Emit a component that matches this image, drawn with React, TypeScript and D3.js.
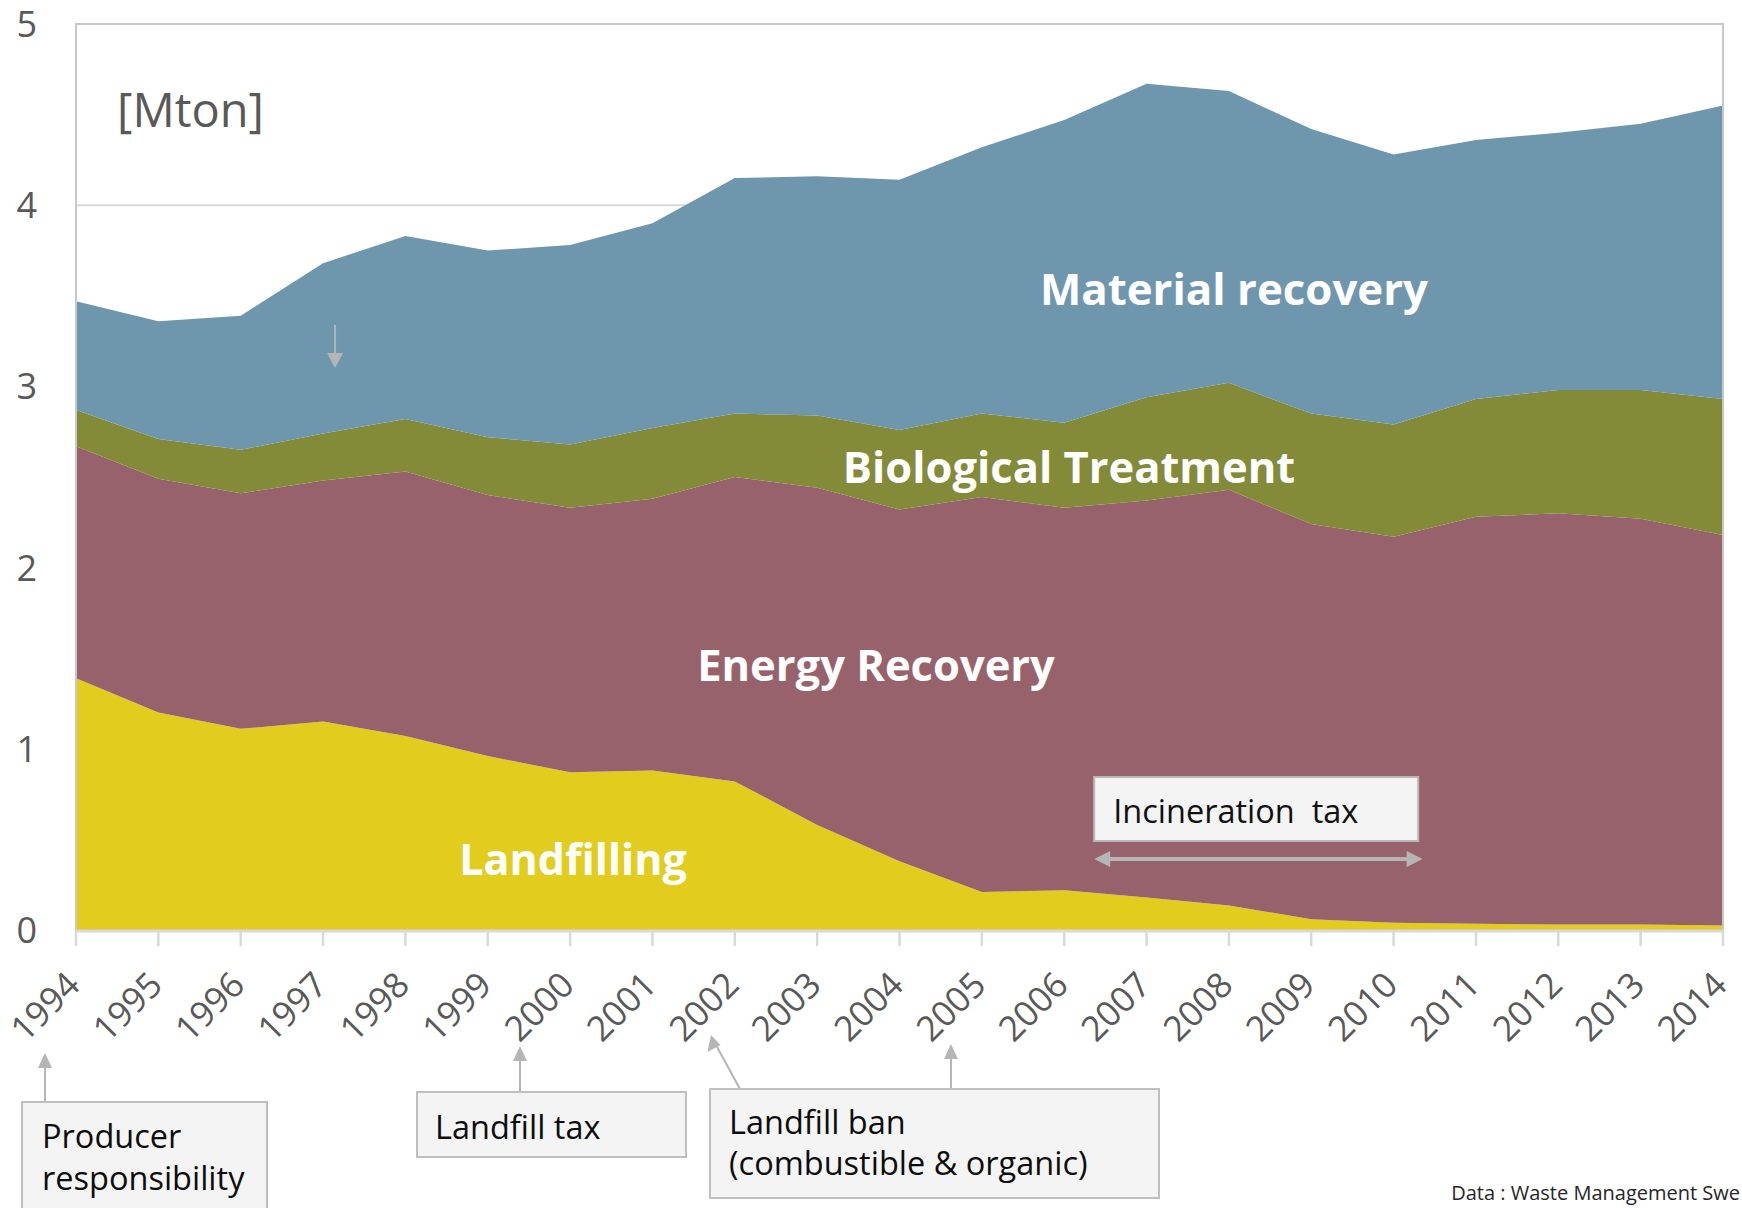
import React from 'react'
import * as d3 from 'd3'

// waste treatment in Sweden, Mton per year
const years = [1994, 1995, 1996, 1997, 1998, 1999, 2000, 2001, 2002, 2003, 2004, 2005, 2006, 2007, 2008, 2009, 2010, 2011, 2012, 2013, 2014]
const landfilling = [1.39, 1.2, 1.11, 1.15, 1.07, 0.96, 0.87, 0.88, 0.82, 0.58, 0.38, 0.21, 0.22, 0.18, 0.135, 0.06, 0.04, 0.035, 0.03, 0.03, 0.025]
const energyRecovery = [1.28, 1.29, 1.3, 1.33, 1.46, 1.44, 1.46, 1.5, 1.68, 1.86, 1.94, 2.18, 2.11, 2.19, 2.295, 2.18, 2.13, 2.245, 2.27, 2.24, 2.155]
const biologicalTreatment = [0.2, 0.22, 0.24, 0.26, 0.29, 0.32, 0.35, 0.39, 0.35, 0.4, 0.44, 0.46, 0.47, 0.57, 0.59, 0.61, 0.62, 0.65, 0.68, 0.71, 0.75]
const materialRecovery = [0.6, 0.65, 0.74, 0.94, 1.01, 1.03, 1.1, 1.13, 1.3, 1.32, 1.38, 1.47, 1.67, 1.73, 1.61, 1.57, 1.49, 1.43, 1.42, 1.47, 1.62]
const yTicks = [0, 1, 2, 3, 4, 5]

const seriesKeys = ['landfilling', 'energy', 'biological', 'material']
const seriesColors = ['#e2cd1e', '#97626b', '#838a38', '#6e97ae']

const W = 1742
const H = 1208
const m = { top: 24, right: 19, bottom: 278, left: 76 }
const FONT = "'Open Sans', 'Noto Sans', sans-serif"
const GREY = '#b5b5b5'
const NOTE = 32.5

function ArrowUp({ x, y1, y2 }: { x: number; y1: number; y2: number }) {
  return (
    <g>
      <line x1={x} x2={x} y1={y1} y2={y2 + 12} stroke={GREY} strokeWidth={2} />
      <path d={`M${x},${y2} L${x - 7},${y2 + 15} L${x + 7},${y2 + 15} Z`} fill={GREY} />
    </g>
  )
}

export default function App() {
  const iW = W - m.left - m.right
  const iH = H - m.top - m.bottom

  const x = d3.scaleLinear().domain([years[0], years[years.length - 1]]).range([m.left, m.left + iW])
  const y = d3.scaleLinear().domain([0, 5]).range([m.top + iH, m.top])

  const rows = years.map((yr, i) => ({
    year: yr,
    landfilling: landfilling[i],
    energy: energyRecovery[i],
    biological: biologicalTreatment[i],
    material: materialRecovery[i],
  }))
  const stacked = d3.stack<any>().keys(seriesKeys)(rows)
  const area = d3.area<any>()
    .x(d => x(d.data.year))
    .y0(d => y(d[0]))
    .y1(d => y(d[1]))

  const y0 = y(0)

  // annotation: small arrow at 1997, incineration tax span 2006..2010
  const ax97 = x(1997) + 12
  const incL = x(2006) + 30
  const incR = x(2010) + 29

  return (
    <div style={{ position: 'fixed', left: 0, top: 0, width: W, height: H, background: '#fff' }}>
      <svg width={W} height={H} style={{ display: 'block', fontFamily: FONT }}>
        <rect x={0} y={0} width={W} height={H} fill="#fff" />

        {/* gridlines sit under the areas */}
        {yTicks.slice(1).map(t => (
          <line key={t} x1={m.left} x2={m.left + iW} y1={y(t)} y2={y(t)} stroke="#d9d9d9" strokeWidth={2} />
        ))}

        {stacked.map((s, i) => (
          <path key={s.key} d={area(s) || ''} fill={seriesColors[i]} />
        ))}

        {/* plot border */}
        <path d={`M${m.left},${y0} V${m.top} H${m.left + iW} V${y0}`} fill="none" stroke="#c8c8c8" strokeWidth={2} />

        {/* x axis */}
        <line x1={m.left} x2={m.left + iW} y1={y0 + 1} y2={y0 + 1} stroke="#d9d9d9" strokeWidth={3} />
        {years.map(yr => (
          <line key={yr} x1={x(yr)} x2={x(yr)} y1={y0} y2={y0 + 16} stroke="#d9d9d9" strokeWidth={2.5} />
        ))}
        {years.map(yr => (
          <text key={yr} transform={`translate(${x(yr) + 6},${y0 + 57}) rotate(-45)`}
            textAnchor="end" fontSize={35} fill="#595959">{yr}</text>
        ))}

        {/* y axis labels */}
        {yTicks.map(t => (
          <text key={t} x={37} y={y(t)} dy="0.36em" textAnchor="end" fontSize={36} fill="#595959">{t}</text>
        ))}

        <text x={117} y={127} fontSize={47} fill="#595959">[Mton]</text>

        {/* series labels */}
        <text x={1234} y={305} textAnchor="middle" fontSize={43.8} fontWeight={700} fill="#fff">Material recovery</text>
        <text x={1069} y={483} textAnchor="middle" fontSize={43.5} fontWeight={700} fill="#fff">Biological Treatment</text>
        <text x={876} y={681} textAnchor="middle" fontSize={43.5} fontWeight={700} fill="#fff">Energy Recovery</text>
        <text x={573} y={875} textAnchor="middle" fontSize={43} fontWeight={700} fill="#fff">Landfilling</text>

        {/* arrow near 1997 */}
        <line x1={ax97} x2={ax97} y1={325} y2={356} stroke={GREY} strokeWidth={2} />
        <path d={`M${ax97 - 8},${353} L${ax97 + 8},${353} L${ax97},${368} Z`} fill={GREY} />

        {/* incineration tax */}
        <rect x={incL} y={777} width={324} height={64} fill="#f4f4f4" stroke="#b8b8b8" strokeWidth={2} />
        <text x={incL + 19} y={823} fontSize={NOTE} fill="#111" style={{ whiteSpace: 'pre' }}>{'Incineration  tax'}</text>
        <line x1={incL + 12} x2={incR - 12} y1={859} y2={859} stroke={GREY} strokeWidth={4} />
        <path d={`M${incL},859 L${incL + 16},851 L${incL + 16},867 Z`} fill={GREY} />
        <path d={`M${incR},859 L${incR - 16},851 L${incR - 16},867 Z`} fill={GREY} />

        {/* bottom annotations */}
        <ArrowUp x={45} y1={1102} y2={1053} />
        <rect x={22} y={1102} width={245} height={120} fill="#f4f4f4" stroke="#bfbfbf" strokeWidth={2} />
        <text x={42} y={1148} fontSize={NOTE} fill="#0d0d0d">Producer</text>
        <text x={42} y={1190} fontSize={NOTE} fill="#0d0d0d">responsibility</text>

        <ArrowUp x={520} y1={1092} y2={1046} />
        <rect x={417} y={1092} width={269} height={65} fill="#f4f4f4" stroke="#bfbfbf" strokeWidth={2} />
        <text x={435} y={1139} fontSize={NOTE} fill="#0d0d0d">Landfill tax</text>

        <line x1={740} y1={1089} x2={716} y2={1045} stroke={GREY} strokeWidth={2} />
        <path d="M711,1035 L707.5,1052 L720.5,1045 Z" fill={GREY} />
        <ArrowUp x={951} y1={1089} y2={1044} />
        <rect x={710} y={1089} width={449} height={109} fill="#f4f4f4" stroke="#bfbfbf" strokeWidth={2} />
        <text x={729} y={1134} fontSize={NOTE} fill="#0d0d0d">Landfill ban</text>
        <text x={729} y={1175} fontSize={NOTE} fill="#0d0d0d">(combustible &amp; organic)</text>

        <text x={1740} y={1200} textAnchor="end" fontSize={20} fill="#262626">Data : Waste Management Swe</text>
      </svg>
    </div>
  )
}
